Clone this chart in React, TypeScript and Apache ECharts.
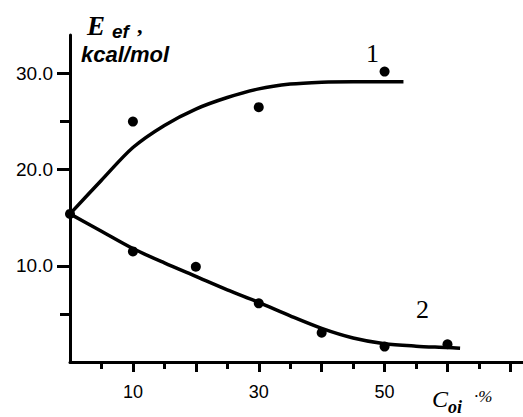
import React, { useEffect, useRef } from "react";
import * as echarts from "echarts";

const xMajorTicks = [10, 20, 30, 40, 50, 60, 70];
const xMinorTicks = [5, 15, 25, 35, 45, 55, 65];
const xLabels = [10, 30, 50];
const yMajorTicks = [10, 20, 30];
const yMinorTicks = [5, 25];
const yLabels = [10, 20, 30];

// curve 1 (fitted line)
const curve1X = [0, 5, 10, 15, 20, 25, 30, 35, 40, 45, 50, 53];
const curve1Y = [15.4, 18.9, 22.3, 24.6, 26.3, 27.5, 28.4, 28.9, 29.1, 29.15, 29.15, 29.15];
// curve 2 (fitted line)
const curve2X = [0, 5, 10, 15, 20, 25, 30, 35, 40, 45, 50, 55, 60, 62];
const curve2Y = [15.4, 13.6, 11.8, 10.3, 8.9, 7.5, 6.2, 4.8, 3.5, 2.5, 1.9, 1.65, 1.5, 1.42];
// measured points
const pts1X = [10, 30, 50];
const pts1Y = [25.0, 26.5, 30.2];
const pts2X = [0, 10, 20, 30, 40, 50, 60];
const pts2Y = [15.4, 11.5, 9.9, 6.1, 3.05, 1.6, 1.85];

const zip = (a: number[], b: number[]) => a.map((v, i) => [v, b[i]]);

export default function App() {
  const ref = useRef<HTMLDivElement>(null);
  useEffect(() => {
    const chart = echarts.init(ref.current!, null, { renderer: "svg" });
    const axisColor = "#000";
    const grid = { left: 70, right: 0, top: 35, bottom: 55 };
    chart.setOption({
      animation: false,
      backgroundColor: "#fff",
      grid,
      xAxis: [
        {
          type: "value",
          min: 0,
          max: 72,
          position: "bottom",
          axisLine: { show: true, lineStyle: { color: axisColor, width: 3 } },
          axisTick: { show: true, customValues: xMajorTicks, length: 10, lineStyle: { color: axisColor, width: 3 } },
          axisLabel: {
            show: true,
            customValues: xLabels,
            color: "#000",
            fontSize: 18,
            fontFamily: "Liberation Sans",
            margin: 21,
          },
          splitLine: { show: false },
        },
        {
          type: "value",
          min: 0,
          max: 72,
          position: "bottom",
          axisLine: { show: false },
          axisTick: { show: true, customValues: xMinorTicks, length: 7, lineStyle: { color: axisColor, width: 3 } },
          axisLabel: { show: false },
          splitLine: { show: false },
        },
      ],
      yAxis: [
        {
          type: "value",
          min: 0,
          max: 34,
          position: "left",
          axisLine: { show: true, lineStyle: { color: axisColor, width: 3 } },
          axisTick: { show: true, customValues: yMajorTicks, length: 13, lineStyle: { color: axisColor, width: 3 } },
          axisLabel: {
            show: true,
            customValues: yLabels,
            formatter: (v: number) => v.toFixed(1),
            color: "#000",
            fontSize: 19,
            fontFamily: "Liberation Sans",
            margin: 17,
          },
          splitLine: { show: false },
        },
        {
          type: "value",
          min: 0,
          max: 34,
          position: "left",
          axisLine: { show: false },
          axisTick: { show: true, customValues: yMinorTicks, length: 10, lineStyle: { color: axisColor, width: 3 } },
          axisLabel: { show: false },
          splitLine: { show: false },
        },
      ],
      series: [
        {
          type: "line",
          data: zip(curve1X, curve1Y),
          smooth: 0.3,
          showSymbol: false,
          lineStyle: { color: "#000", width: 3.5 },
        },
        {
          type: "line",
          data: zip(curve2X, curve2Y),
          smooth: 0.3,
          showSymbol: false,
          lineStyle: { color: "#000", width: 3.5 },
        },
        {
          type: "scatter",
          data: zip(pts1X, pts1Y),
          symbolSize: 10,
          itemStyle: { color: "#000", opacity: 1 },
        },
        {
          type: "scatter",
          data: zip(pts2X, pts2Y),
          symbolSize: 10,
          itemStyle: { color: "#000", opacity: 1 },
        },
      ],
      graphic: [
        {
          type: "text",
          left: 87,
          top: 12,
          style: { text: "E", font: "italic bold 27px 'Liberation Serif'", fill: "#000" },
        },
        {
          type: "text",
          left: 112,
          top: 22,
          style: { text: "ef", font: "italic bold 19px 'Liberation Sans'", fill: "#000" },
        },
        {
          type: "text",
          left: 137,
          top: 14,
          style: { text: ",", font: "bold 22px 'Liberation Serif'", fill: "#000" },
        },
        {
          type: "text",
          left: 81,
          top: 43,
          style: { text: "kcal/mol", font: "italic bold 22px 'Liberation Sans'", fill: "#000" },
        },
        {
          type: "text",
          left: 366,
          top: 40,
          style: { text: "1", font: "26px 'Liberation Serif'", fill: "#000" },
        },
        {
          type: "text",
          left: 416,
          top: 296,
          style: { text: "2", font: "26px 'Liberation Serif'", fill: "#000" },
        },
        {
          type: "text",
          left: 432,
          top: 387,
          style: { text: "C", font: "italic 24px 'Liberation Serif'", fill: "#000" },
        },
        {
          type: "text",
          left: 448,
          top: 398,
          style: { text: "oi", font: "italic bold 18px 'Liberation Serif'", fill: "#000" },
        },
        {
          type: "text",
          left: 474,
          top: 388,
          style: { text: "·%", font: "italic 17px 'Liberation Serif'", fill: "#000" },
        },
      ],
    });
    return () => chart.dispose();
  }, []);
  return (
    <div
      ref={ref}
      style={{ position: "absolute", left: 0, top: 0, width: 523, height: 417, background: "#fff" }}
    />
  );
}
